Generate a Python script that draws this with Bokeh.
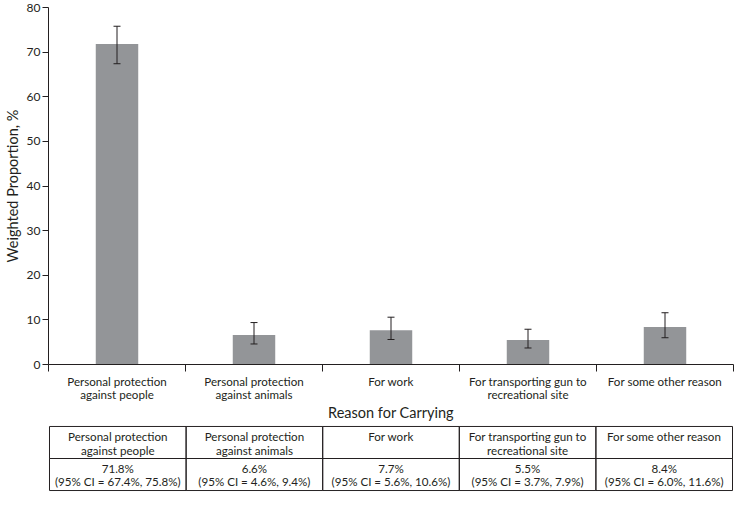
from bokeh.plotting import figure
from bokeh.layouts import column
from bokeh.models import Range1d, FixedTicker, ColumnDataSource, Whisker, TeeHead
from bokeh.core.properties import value
from bokeh.embed import file_html
from bokeh.resources import INLINE

categories = ["Personal protection\nagainst people",
              "Personal protection\nagainst animals",
              "For work",
              "For transporting gun to\nrecreational site",
              "For some other reason"]
proportions = [71.8, 6.6, 7.7, 5.5, 8.4]
ci_lower = [67.4, 4.6, 5.6, 3.7, 6.0]
ci_upper = [75.8, 9.4, 10.6, 7.9, 11.6]
y_ticks = [0, 10, 20, 30, 40, 50, 60, 70, 80]

FONT = "Lato"
DARK = "#231f20"
BAR = "#939598"
LBL = "11.6px"

n = len(categories)
xs = [i + 0.5 for i in range(n)]
src = ColumnDataSource(dict(x=xs, top=proportions, lower=ci_lower, upper=ci_upper))

p = figure(width=735, height=424, x_range=Range1d(0, n),
           y_range=Range1d(0, 80), output_backend="svg", toolbar_location=None,
           min_border_left=45, min_border_right=2, min_border_top=7, min_border_bottom=54)
p.outline_line_color = None
p.xgrid.grid_line_color = None
p.ygrid.grid_line_color = None

p.vbar(x="x", top="top", width=0.31, bottom=0, source=src, fill_color=BAR, line_color=None)
w = Whisker(base="x", lower="lower", upper="upper", source=src, line_color=DARK, line_width=1,
            upper_head=TeeHead(size=7, line_color=DARK, line_width=1),
            lower_head=TeeHead(size=7, line_color=DARK, line_width=1))
w.level = "overlay"
p.add_layout(w)

# y axis
ya = p.yaxis[0]
ya.ticker = FixedTicker(ticks=y_ticks)
ya.axis_label = "Weighted Proportion, %"
ya.axis_label_text_font = FONT
ya.axis_label_text_font_style = "normal"
ya.axis_label_text_font_size = "14.5px"
ya.axis_label_text_color = DARK
ya.axis_label_standoff = 3
ya.major_label_text_font = FONT
ya.major_label_text_font_size = "12px"
ya.major_label_text_color = DARK
ya.major_label_standoff = 2
ya.major_tick_out = 6
ya.major_tick_in = 0
ya.minor_tick_line_color = None
ya.axis_line_color = DARK
ya.major_tick_line_color = DARK

# x axis
xa = p.xaxis[0]
xa.ticker = FixedTicker(ticks=xs, minor_ticks=list(range(n + 1)))
xa.major_label_overrides = {x: c for x, c in zip(xs, categories)}
xa.major_tick_line_color = None
xa.major_tick_out = 6
xa.minor_tick_out = 7
xa.minor_tick_in = 0
xa.minor_tick_line_color = DARK
xa.axis_line_color = DARK
xa.major_label_standoff = 3
xa.major_label_text_font = FONT
xa.major_label_text_font_size = LBL
xa.major_label_text_color = DARK
xa.major_label_text_line_height = 1.05
xa.axis_label = "Reason for Carrying"
xa.axis_label_text_font = FONT
xa.axis_label_text_font_style = "normal"
xa.axis_label_text_font_size = "14.5px"
xa.axis_label_text_color = DARK
xa.axis_label_standoff = 0

# table
eps = 1.0 / 137.6
t = figure(width=735, height=68, x_range=Range1d(-eps, n + eps), y_range=Range1d(-0.03, 2.03),
           output_backend="svg", toolbar_location=None,
           min_border_left=44, min_border_right=1, min_border_top=1, min_border_bottom=1)
t.outline_line_color = None
t.axis.visible = False
t.xgrid.grid_line_color = None
t.ygrid.grid_line_color = None

lefts = [i for i in range(n)]
rights = [i + 1 for i in range(n)]
t.quad(left=lefts * 2, right=rights * 2, bottom=[1] * n + [0] * n, top=[2] * n + [1] * n,
       fill_color=None, line_color=DARK, line_width=1)

row2 = ["%.1f%%\n(95%% CI = %.1f%%, %.1f%%)" % (v, lo, hi)
        for v, lo, hi in zip(proportions, ci_lower, ci_upper)]
tsrc = ColumnDataSource(dict(x=xs, y1=[2] * n, y2=[1] * n, t1=categories, t2=row2))
t.text(x="x", y="y1", text="t1", source=tsrc, text_align="center", text_baseline="top",
       y_offset=4, text_font=value(FONT), text_font_size=LBL, text_color=DARK,
       text_line_height=1.05)
t.text(x="x", y="y2", text="t2", source=tsrc, text_align="center", text_baseline="top",
       y_offset=3, text_font=value(FONT), text_font_size=LBL, text_color=DARK,
       text_line_height=1.05)

layout = column(p, t, spacing=0)
open("out.html", "w").write(file_html(layout, INLINE))
